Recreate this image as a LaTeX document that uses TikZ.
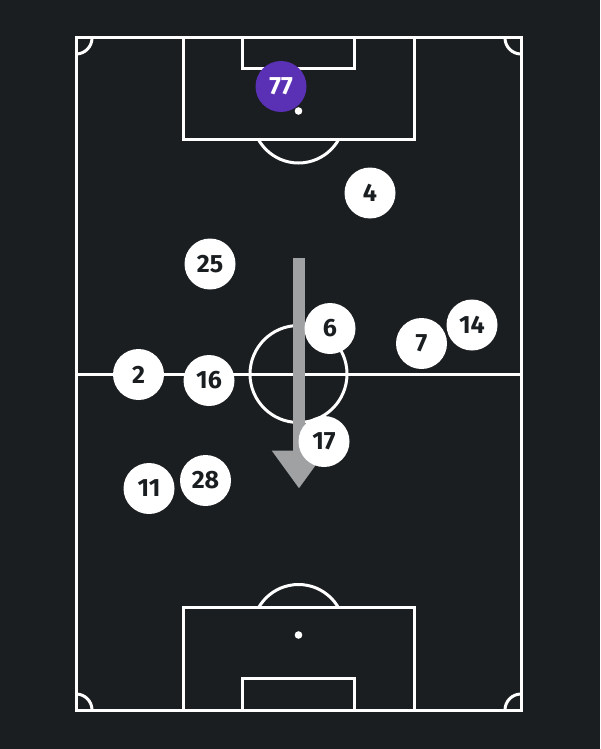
\documentclass[tikz,border=0pt]{standalone}
\usepackage{fontspec}
\setmainfont{Fira Sans}
\usetikzlibrary{arrows.meta}
\definecolor{bg}{HTML}{1A1E21}
\definecolor{arrowgray}{HTML}{A0A1A3}
\definecolor{keeper}{HTML}{5A30B5}
\begin{document}
\begin{tikzpicture}[x=1pt,y=-1pt,
  pline/.style={white,line width=3pt},
  player/.style={circle,fill=white,minimum size=51pt,inner sep=0pt,
    font=\fontsize{25}{25}\selectfont\bfseries,text=bg},
  gk/.style={player,fill=keeper,text=white}]
\fill[bg] (0,0) rectangle (600,749);
\useasboundingbox (0,0) rectangle (600,749);
% pitch
\draw[pline] (76,38) rectangle (521,710);
\draw[pline] (76,374) -- (521,374);
\draw[pline] (298.5,374) circle[radius=48.5];
% top half
\draw[pline] (183,38) rectangle (414,139);
\draw[pline] (242.5,38) rectangle (354,69);
\begin{scope}
  \clip (76,139) rectangle (521,200);
  \draw[pline] (298.5,117) circle[radius=46];
\end{scope}
% bottom half
\draw[pline] (183,607) rectangle (414,710);
\draw[pline] (242.5,678) rectangle (354,710);
\fill[white] (298.5,635) circle[radius=3.8];
\begin{scope}
  \clip (76,540) rectangle (521,607);
  \draw[pline] (298.5,630.5) circle[radius=46];
\end{scope}
% corners
\begin{scope}
  \clip (76,38) rectangle (521,710);
  \draw[pline] (76,38) circle[radius=16];
  \draw[pline] (521,38) circle[radius=16];
  \draw[pline] (76,710) circle[radius=16];
  \draw[pline] (521,710) circle[radius=16];
\end{scope}
% ball / spot
\fill[white] (298.5,111) circle[radius=3.8];
% arrow
\coordinate (as) at (299,258);
\coordinate (ae) at (299,488.5);
\draw[arrowgray,line width=11.5pt,-{Triangle[length=38pt,width=52pt]}] (as) -- (ae);
% players
\node[gk] (p77) at (281,86.5) {77};
\node[player] (p4) at (370,193) {4};
\node[player] (p25) at (210,264) {25};
\node[player] (p6) at (330,328.5) {6};
\node[player] (p7) at (421.5,343.5) {7};
\node[player] (p14) at (472,325) {14};
\node[player] (p2) at (138.5,374.5) {2};
\node[player] (p16) at (209,380.5) {16};
\node[player] (p17) at (324,441.5) {17};
\node[player] (p11) at (149,488.5) {11};
\node[player] (p28) at (205.5,480.5) {28};
\end{tikzpicture}
\end{document}
